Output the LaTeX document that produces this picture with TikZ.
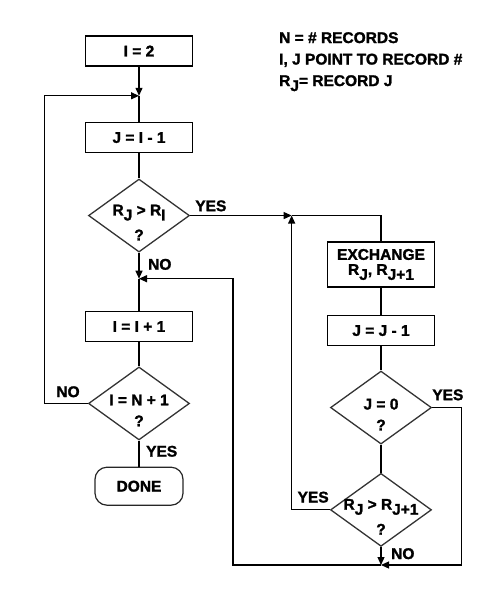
\documentclass[tikz,border=0pt]{standalone}
\usepackage{fontspec}
\setmainfont{Liberation Sans}[BoldFeatures={FakeBold=1.6}]
\usetikzlibrary{arrows.meta,positioning,shapes.geometric}
\newcommand\lowsub[1]{\raisebox{-5pt}{#1}}
\newcommand\chartfont{\fontsize{15.5}{21}\selectfont\bfseries}

\begin{document}
\begin{tikzpicture}[
  x=1pt, y=1pt,
  box/.style={
    draw, line width=1.6pt, minimum width=107pt, minimum height=30pt,
    inner sep=2pt, align=center, font=\chartfont
  },
  decision/.style={
    diamond, draw=black!80, line width=1.3pt,
    minimum width=101pt, minimum height=73pt, inner sep=0pt
  },
  query/.style={yshift=-7pt, align=center, font=\chartfont},
  terminal/.style={
    draw=black!85, line width=1.2pt, rounded corners=12pt,
    minimum width=88pt, minimum height=38pt, font=\chartfont
  },
  tag/.style={inner sep=0pt, font=\chartfont},
  note/.style={inner sep=0pt, align=left, font=\fontsize{15.5}{21.5}\selectfont\bfseries},
  arrow/.style={-{Triangle[length=8pt,width=7pt]}, line width=1.2pt},
  link/.style={line width=1.2pt}
]
\useasboundingbox (0,0) rectangle (500,-603);

\node[note, anchor=north west] (legend) at (279,-32)
{N = \# RECORDS\\
I, J POINT TO RECORD \#\\
R\lowsub{J}= RECORD J};

\node[box] (init) at (139,-51) {I = 2};
\coordinate[below=29pt of init] (outer);
\node[box, below=26pt of outer] (setj) {J = I - 1};
\node[decision, below=25pt of setj,
  label={[query]center:{R\lowsub{J} > R\lowsub{I}\\[4pt]?}}] (cmpone) {};
\coordinate[below=26pt of cmpone] (inner);
\node[box, below=32pt of inner] (inci) {I = I + 1};
\node[decision, below=24pt of inci,
  label={[query]center:{I = N + 1\\?}}] (test) {};
\node[terminal, below=26pt of test] (done) {DONE};

\coordinate (swapin) at ([xshift=101.5pt]cmpone.east);
\coordinate (mid) at ([xshift=94pt]inner);
\node[box, minimum height=45pt] (exch) at (381,-264.5)
{EXCHANGE\\[-6pt]R\lowsub{J}, R\lowsub{J+1}};
\node[box, below=27pt of exch] (decj) {J = J - 1};
\node[decision, below=24pt of decj,
  label={[query]center:{J = 0\\?}}] (zero) {};
\node[decision, below=28pt of zero,
  label={[query]center:{R\lowsub{J} > R\lowsub{J+1}\\[4pt]?}}] (cmptwo) {};
\coordinate[below=18pt of cmptwo] (back);

\node[tag, above right=4pt and 5pt of cmpone.east] (yesone) {YES};
\node[tag, below right=6pt and 9pt of cmpone.south] (noone) {NO};
\node[tag, above left=6pt and 8pt of test.west] (notest) {NO};
\node[tag, below right=5pt and 7pt of test.south] (yestest) {YES};
\node[tag, above right=7pt and 0pt of zero.east] (yeszero) {YES};
\node[tag, above left=7pt and 1pt of cmptwo.west] (yestwo) {YES};
\node[tag, below right=1pt and 10pt of cmptwo.south] (notwo) {NO};

\draw[arrow] (init) -- (outer);
\draw[link] (outer) -- (setj);
\draw[link] (setj) -- (cmpone);
\draw[arrow] (cmpone) -- (inner);
\draw[link] (inner) -- (inci);
\draw[link] (inci) -- (test);
\draw[link] (test) -- (done);
\draw[arrow] (test.west) -- ([xshift=-43pt]test.west) |- (outer);
\draw[arrow] (cmpone.east) -- (swapin);
\draw[link] (swapin) -| (exch);
\draw[link] (exch) -- (decj);
\draw[link] (decj) -- (zero);
\draw[link] (zero) -- (cmptwo);
\draw[arrow] (cmptwo) -- (back);
\draw[arrow] (cmptwo.west) -| (swapin);
\draw[arrow] (zero.east) -- ([xshift=29pt]zero.east) |- (back);
\draw[arrow] (back) -| (mid) -- (inner);
\end{tikzpicture}
\end{document}
